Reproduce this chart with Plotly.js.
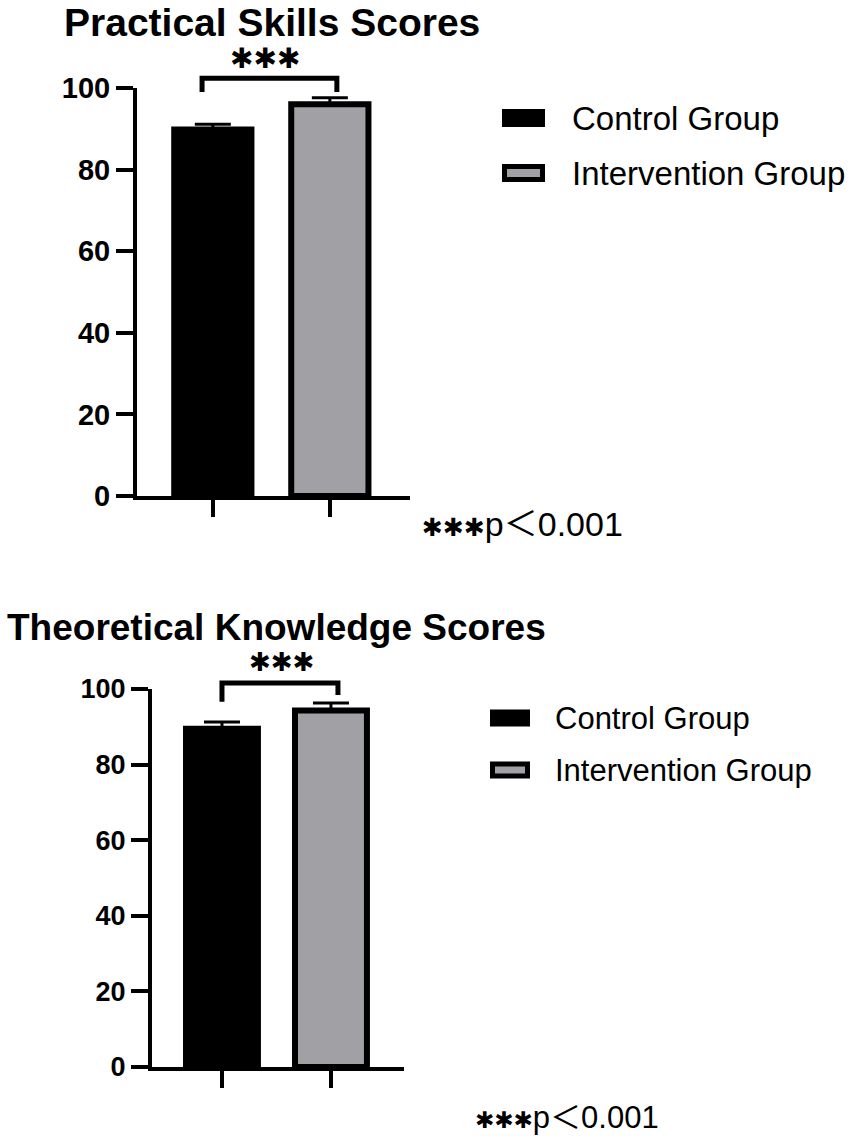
<!DOCTYPE html>
<html>
<head>
<meta charset="utf-8">
<script src="https://cdn.plot.ly/plotly-3.0.1.min.js"></script>
<style>
  html, body { margin: 0; padding: 0; background: #fff; }
  #chart { width: 851px; height: 1141px; }
</style>
</head>
<body>
<div id="chart"></div>
<script>
// group names and positions on the x axis
const groups = ['Control Group', 'Intervention Group'];
const groupX = [0, 1];

// Practical Skills Scores (mean, upper error)
const practicalMeans = [89.8, 96.0];
const practicalErrors = [1.3, 1.6];

// Theoretical Knowledge Scores (mean, upper error)
const theoryMeans = [89.5, 94.3];
const theoryErrors = [1.8, 2.0];

// significance brackets: [left end, right end], top level, left/right leg bottoms
const practicalBracket = { x: [-0.092, 1.06], top: 102.4, legs: [99.0, 99.0] };
const theoryBracket = { x: [0, 1.064], top: 101.6, legs: [96.6, 98.4] };

const yTicks = [0, 20, 40, 60, 80, 100];
const yMax = 100;

const FONT = 'Liberation Sans, Arial, sans-serif';
const STAR = 'DejaVu Sans';
const CJK = 'Noto Sans CJK SC';
const GREY = '#a1a0a5';
const fills = ['#000000', GREY];

const W = 851, H = 1141;
const px = x => x / W;
const py = y => 1 - y / H;

function barTraces(means, errors, xa, ya, lw) {
  return means.map((m, i) => ({
    type: 'bar',
    x: [groupX[i]],
    y: [m],
    width: 0.66,
    name: groups[i],
    xaxis: xa,
    yaxis: ya,
    marker: { color: fills[i], line: { color: '#000', width: lw } },
    error_y: {
      type: 'data', symmetric: false,
      array: [errors[i]], arrayminus: [0],
      color: '#000', thickness: 3, width: 18,
    },
    hoverinfo: 'skip',
    showlegend: false,
  }));
}

const data = [
  ...barTraces(practicalMeans, practicalErrors, 'x', 'y', 6),
  ...barTraces(theoryMeans, theoryErrors, 'x2', 'y2', 6),
];

const xBase = {
  tickvals: groupX, showticklabels: false, ticks: 'outside',
  ticklen: 17, tickwidth: 4, tickcolor: '#000',
  showline: true, linewidth: 4, linecolor: '#000',
  showgrid: false, zeroline: false, fixedrange: true,
};
const yBase = {
  range: [0, yMax], tickvals: yTicks, ticks: 'outside',
  ticklen: 17, tickwidth: 4, tickcolor: '#000',
  showline: true, linewidth: 4, linecolor: '#000',
  showgrid: false, zeroline: false, fixedrange: true,
  ticklabelstandoff: 0,
};

function bracket(b, xr, yr) {
  const d = v => v / yMax;
  return {
    type: 'path', xref: xr, yref: yr + ' domain',
    path: `M${b.x[0]},${d(b.legs[0])} L${b.x[0]},${d(b.top)} L${b.x[1]},${d(b.top)} L${b.x[1]},${d(b.legs[1])}`,
    line: { color: '#000', width: 5 },
  };
}

function legendShapes(x0, x1, rows, h) {
  return rows.map((yc, i) => ({
    type: 'rect', xref: 'paper', yref: 'paper',
    x0: px(x0 + 2.5), x1: px(x1 - 2.5),
    y0: py(yc - h / 2 + 2.5), y1: py(yc + h / 2 - 2.5),
    fillcolor: fills[i], line: { color: '#000', width: 5 },
  }));
}

function text(t, x, y, size, opts) {
  return Object.assign({
    text: t, xref: 'paper', yref: 'paper', x: px(x), y: py(y),
    xanchor: 'left', yanchor: 'middle', showarrow: false,
    font: { family: FONT, size: size, color: '#000' },
  }, opts || {});
}

const bold = { family: FONT, color: '#000', weight: 'bold' };

const stars = size => `<span style="font-family:${STAR};font-size:${size}px">✱✱✱</span>`;
const pNote = starSize => stars(starSize) + `p<span style="font-family:${CJK}">＜</span>0.001`;

const layout = {
  width: W, height: H,
  margin: { l: 0, r: 0, t: 0, b: 0 },
  paper_bgcolor: '#fff', plot_bgcolor: '#fff',
  showlegend: false,
  xaxis: { ...xBase, domain: [px(137), px(410)], range: [-0.648, 1.685], anchor: 'y' },
  yaxis: { ...yBase, domain: [py(496), py(88)], anchor: 'x',
    tickfont: { ...bold, size: 29 } },
  xaxis2: { ...xBase, domain: [px(152), px(404)], range: [-0.642, 1.67], anchor: 'y2' },
  yaxis2: { ...yBase, domain: [py(1067), py(689)], anchor: 'x2',
    tickfont: { ...bold, size: 27 } },
  shapes: [
    bracket(practicalBracket, 'x', 'y'),
    bracket(theoryBracket, 'x2', 'y2'),
    ...legendShapes(502, 545, [118, 173], 18),
    ...legendShapes(490, 530, [718, 770], 17),
  ],
  annotations: [
    text('Practical Skills Scores', 62, 23, 39, { font: { ...bold, size: 39 } }),
    text('✱✱✱', 265, 58, 28, { xanchor: 'center', font: { family: STAR, size: 28, color: '#000', weight: 'bold' } }),
    text(groups[0], 570, 118, 33),
    text(groups[1], 570, 173, 33),
    text(pNote(25), 420, 521, 34),
    text('Theoretical Knowledge Scores', 5, 628, 37, { font: { ...bold, size: 37 } }),
    text('✱✱✱', 281, 662, 26, { xanchor: 'center', font: { family: STAR, size: 26, color: '#000', weight: 'bold' } }),
    text(groups[0], 553, 718, 31),
    text(groups[1], 553, 770, 31),
    text(pNote(23), 473, 1114, 31),
  ],
};

Plotly.newPlot('chart', data, layout, { staticPlot: true, responsive: false });
</script>
</body>
</html>
